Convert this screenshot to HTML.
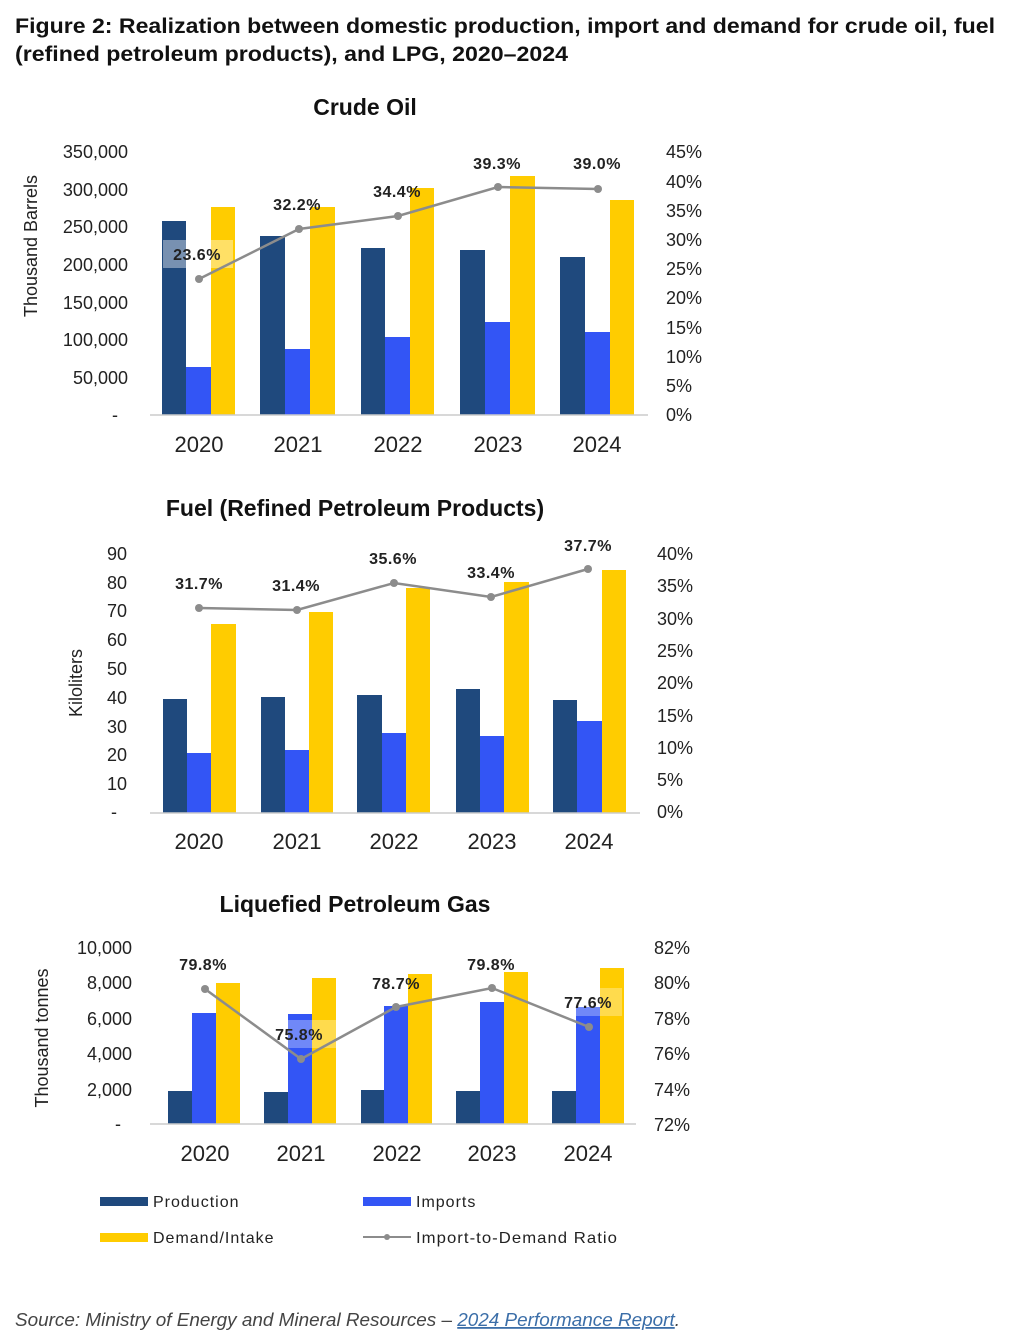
<!DOCTYPE html>
<html><head><meta charset="utf-8"><style>
html,body{margin:0;padding:0;background:#fff;}
svg{display:block;font-family:"Liberation Sans",sans-serif;}
.ax{font-size:18px;fill:#222;}
.yr{font-size:22px;fill:#222;}
.lb{font-size:16px;font-weight:bold;fill:#222;letter-spacing:0.5px;}
.tt{font-size:23px;font-weight:bold;fill:#111;}
.lg{font-size:16px;fill:#222;letter-spacing:1px;}
.P{fill:#1f497d}.I{fill:#3355f5}.D{fill:#ffcc00}
</style></head><body>
<svg width="1014" height="1343" viewBox="0 0 1014 1343">
<text x="15" y="33" font-size="21" font-weight="bold" fill="#111" textLength="980" lengthAdjust="spacingAndGlyphs">Figure 2: Realization between domestic production, import and demand for crude oil, fuel</text>
<text x="15" y="61" font-size="21" font-weight="bold" fill="#111" textLength="553" lengthAdjust="spacingAndGlyphs">(refined petroleum products), and LPG, 2020–2024</text>

<!-- Crude Oil -->
<text class="tt" x="365" y="115" text-anchor="middle">Crude Oil</text>
<text class="ax" x="37" y="246" text-anchor="middle" transform="rotate(-90 37 246)" font-size="19">Thousand Barrels</text>
<g class="ax" text-anchor="end">
<text x="128" y="158">350,000</text><text x="128" y="196">300,000</text><text x="128" y="233">250,000</text><text x="128" y="271">200,000</text><text x="128" y="309">150,000</text><text x="128" y="346">100,000</text><text x="128" y="384">50,000</text><text x="118" y="421">-</text>
</g>
<g class="ax" text-anchor="start" font-size="20">
<text x="666" y="158">45%</text><text x="666" y="188">40%</text><text x="666" y="217">35%</text><text x="666" y="246">30%</text><text x="666" y="275">25%</text><text x="666" y="304">20%</text><text x="666" y="334">15%</text><text x="666" y="363">10%</text><text x="666" y="392">5%</text><text x="666" y="421">0%</text>
</g>
<g>
<rect class="P" x="162" y="221" width="24" height="194"/><rect class="I" x="186" y="367" width="25" height="48"/><rect class="D" x="211" y="207" width="24" height="208"/>
<rect class="P" x="260" y="236" width="25" height="179"/><rect class="I" x="285" y="349" width="25" height="66"/><rect class="D" x="310" y="207" width="25" height="208"/>
<rect class="P" x="361" y="248" width="24" height="167"/><rect class="I" x="385" y="337" width="25" height="78"/><rect class="D" x="410" y="188" width="24" height="227"/>
<rect class="P" x="460" y="250" width="25" height="165"/><rect class="I" x="485" y="322" width="25" height="93"/><rect class="D" x="510" y="176" width="25" height="239"/>
<rect class="P" x="560" y="257" width="25" height="158"/><rect class="I" x="585" y="332" width="25" height="83"/><rect class="D" x="610" y="200" width="24" height="215"/>
</g>
<line x1="150" y1="415" x2="648" y2="415" stroke="#ccc" stroke-width="1.5"/>
<rect x="163" y="240" width="70" height="28" fill="#fff" opacity="0.4"/>
<polyline points="199,279 299,229 398,216 498,187 598,189" fill="none" stroke="#8c8c8c" stroke-width="2.5"/>
<g fill="#8c8c8c"><circle cx="199" cy="279" r="4"/><circle cx="299" cy="229" r="4"/><circle cx="398" cy="216" r="4"/><circle cx="498" cy="187" r="4"/><circle cx="598" cy="189" r="4"/></g>
<g class="lb" text-anchor="middle"><text x="197" y="260">23.6%</text><text x="297" y="210">32.2%</text><text x="397" y="197">34.4%</text><text x="497" y="169">39.3%</text><text x="597" y="169">39.0%</text></g>
<g class="yr" text-anchor="middle"><text x="199" y="452">2020</text><text x="298" y="452">2021</text><text x="398" y="452">2022</text><text x="498" y="452">2023</text><text x="597" y="452">2024</text></g>

<!-- Fuel -->
<text class="tt" x="355" y="516" text-anchor="middle">Fuel (Refined Petroleum Products)</text>
<text class="ax" x="82" y="683" text-anchor="middle" transform="rotate(-90 82 683)" font-size="19">Kiloliters</text>
<g class="ax" text-anchor="end" font-size="20">
<text x="127" y="560">90</text><text x="127" y="589">80</text><text x="127" y="617">70</text><text x="127" y="646">60</text><text x="127" y="675">50</text><text x="127" y="704">40</text><text x="127" y="733">30</text><text x="127" y="761">20</text><text x="127" y="790">10</text><text x="117" y="818">-</text>
</g>
<g class="ax" text-anchor="start" font-size="20">
<text x="657" y="560">40%</text><text x="657" y="592">35%</text><text x="657" y="625">30%</text><text x="657" y="657">25%</text><text x="657" y="689">20%</text><text x="657" y="722">15%</text><text x="657" y="754">10%</text><text x="657" y="786">5%</text><text x="657" y="818">0%</text>
</g>
<g>
<rect class="P" x="163" y="699" width="24" height="114"/><rect class="I" x="187" y="753" width="24" height="60"/><rect class="D" x="211" y="624" width="25" height="189"/>
<rect class="P" x="261" y="697" width="24" height="116"/><rect class="I" x="285" y="750" width="24" height="63"/><rect class="D" x="309" y="612" width="24" height="201"/>
<rect class="P" x="357" y="695" width="25" height="118"/><rect class="I" x="382" y="733" width="24" height="80"/><rect class="D" x="406" y="588" width="24" height="225"/>
<rect class="P" x="456" y="689" width="24" height="124"/><rect class="I" x="480" y="736" width="24" height="77"/><rect class="D" x="504" y="582" width="25" height="231"/>
<rect class="P" x="553" y="700" width="24" height="113"/><rect class="I" x="577" y="721" width="25" height="92"/><rect class="D" x="602" y="570" width="24" height="243"/>
</g>
<line x1="150" y1="813" x2="640" y2="813" stroke="#ccc" stroke-width="1.5"/>
<polyline points="199,608 297,610 394,583 491,597 588,569" fill="none" stroke="#8c8c8c" stroke-width="2.5"/>
<g fill="#8c8c8c"><circle cx="199" cy="608" r="4"/><circle cx="297" cy="610" r="4"/><circle cx="394" cy="583" r="4"/><circle cx="491" cy="597" r="4"/><circle cx="588" cy="569" r="4"/></g>
<g class="lb" text-anchor="middle"><text x="199" y="589">31.7%</text><text x="296" y="591">31.4%</text><text x="393" y="564">35.6%</text><text x="491" y="578">33.4%</text><text x="588" y="551">37.7%</text></g>
<g class="yr" text-anchor="middle"><text x="199" y="849">2020</text><text x="297" y="849">2021</text><text x="394" y="849">2022</text><text x="492" y="849">2023</text><text x="589" y="849">2024</text></g>

<!-- LPG -->
<text class="tt" x="355" y="912" text-anchor="middle">Liquefied Petroleum Gas</text>
<text class="ax" x="48" y="1038" text-anchor="middle" transform="rotate(-90 48 1038)" font-size="19">Thousand tonnes</text>
<g class="ax" text-anchor="end" font-size="19">
<text x="132" y="954">10,000</text><text x="132" y="989">8,000</text><text x="132" y="1025">6,000</text><text x="132" y="1060">4,000</text><text x="132" y="1096">2,000</text><text x="121" y="1130">-</text>
</g>
<g class="ax" text-anchor="start" font-size="19">
<text x="654" y="954">82%</text><text x="654" y="989">80%</text><text x="654" y="1025">78%</text><text x="654" y="1060">76%</text><text x="654" y="1096">74%</text><text x="654" y="1131">72%</text>
</g>
<g>
<rect class="P" x="168" y="1091" width="24" height="33"/><rect class="I" x="192" y="1013" width="24" height="111"/><rect class="D" x="216" y="983" width="24" height="141"/>
<rect class="P" x="264" y="1092" width="24" height="32"/><rect class="I" x="288" y="1014" width="24" height="110"/><rect class="D" x="312" y="978" width="24" height="146"/>
<rect class="P" x="361" y="1090" width="23" height="34"/><rect class="I" x="384" y="1006" width="24" height="118"/><rect class="D" x="408" y="974" width="24" height="150"/>
<rect class="P" x="456" y="1091" width="24" height="33"/><rect class="I" x="480" y="1002" width="24" height="122"/><rect class="D" x="504" y="972" width="24" height="152"/>
<rect class="P" x="552" y="1091" width="24" height="33"/><rect class="I" x="576" y="1007" width="24" height="117"/><rect class="D" x="600" y="968" width="24" height="156"/>
</g>
<line x1="150" y1="1124" x2="636" y2="1124" stroke="#ccc" stroke-width="1.5"/>
<rect x="288" y="1020" width="48" height="28" fill="#fff" opacity="0.3"/>
<rect x="576" y="988" width="46" height="28" fill="#fff" opacity="0.3"/>
<polyline points="205,989 301,1059 396,1007 492,988 589,1027" fill="none" stroke="#8c8c8c" stroke-width="2.5"/>
<g fill="#8c8c8c"><circle cx="205" cy="989" r="4"/><circle cx="301" cy="1059" r="4"/><circle cx="396" cy="1007" r="4"/><circle cx="492" cy="988" r="4"/><circle cx="589" cy="1027" r="4"/></g>
<g class="lb" text-anchor="middle"><text x="203" y="970">79.8%</text><text x="299" y="1040">75.8%</text><text x="396" y="989">78.7%</text><text x="491" y="970">79.8%</text><text x="588" y="1008">77.6%</text></g>
<g class="yr" text-anchor="middle"><text x="205" y="1161">2020</text><text x="301" y="1161">2021</text><text x="397" y="1161">2022</text><text x="492" y="1161">2023</text><text x="588" y="1161">2024</text></g>

<!-- Legend -->
<rect class="P" x="100" y="1197" width="48" height="9"/>
<text class="lg" x="153" y="1207">Production</text>
<rect class="I" x="363" y="1197" width="48" height="9"/>
<text class="lg" x="416" y="1207">Imports</text>
<rect class="D" x="100" y="1233" width="48" height="9"/>
<text class="lg" x="153" y="1243">Demand/Intake</text>
<line x1="363" y1="1237" x2="411" y2="1237" stroke="#8c8c8c" stroke-width="2"/>
<circle cx="387" cy="1237" r="3" fill="#8c8c8c"/>
<text class="lg" x="416" y="1243" textLength="202" lengthAdjust="spacingAndGlyphs">Import-to-Demand Ratio</text>

<text x="15" y="1326" font-size="18" font-style="italic" fill="#444" textLength="665" lengthAdjust="spacingAndGlyphs">Source: Ministry of Energy and Mineral Resources – <tspan fill="#3b6ea8" text-decoration="underline">2024 Performance Report</tspan>.</text>
</svg>
</body></html>
